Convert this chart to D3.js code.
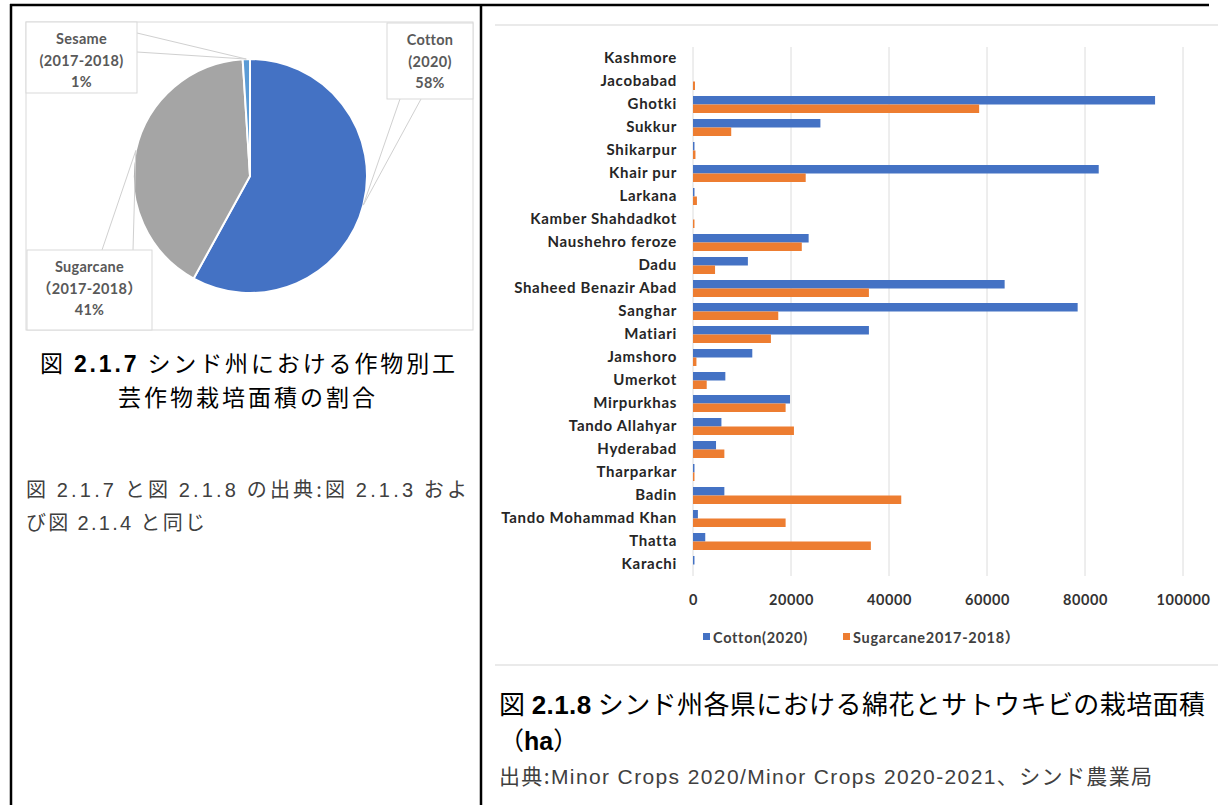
<!DOCTYPE html>
<html><head><meta charset="utf-8">
<script src="https://cdn.jsdelivr.net/npm/d3@7"></script>
<style>body{margin:0;background:#fff}svg{display:block}</style>
</head><body><svg id="c" width="1218" height="805"></svg>
<script>
// Share of industrial crop area in Sindh (pie)
const shareNames = ["Cotton", "Sugarcane", "Sesame"];
const shareYears = ["(2020)", "（2017-2018）", "(2017-2018)"];
const sharePct = [58, 41, 1];
const shareColors = ["#4472C4", "#A5A5A5", "#5B9BD5"];

// Cotton and sugarcane area by district (ha)
const districts = ["Kashmore", "Jacobabad", "Ghotki", "Sukkur", "Shikarpur", "Khair pur", "Larkana",
  "Kamber Shahdadkot", "Naushehro feroze", "Dadu", "Shaheed Benazir Abad", "Sanghar", "Matiari",
  "Jamshoro", "Umerkot", "Mirpurkhas", "Tando Allahyar", "Hyderabad", "Tharparkar", "Badin",
  "Tando Mohammad Khan", "Thatta", "Karachi"];
const cotton2020 = [0, 0, 94300, 26000, 300, 82800, 300, 0, 23600, 11200, 63600, 78500, 35900,
  12100, 6600, 19800, 5800, 4700, 300, 6400, 1000, 2500, 300];
const sugarcane1718 = [0, 400, 58400, 7800, 500, 23000, 800, 300, 22200, 4500, 35900, 17400, 15900,
  700, 2800, 18900, 20600, 6400, 300, 42500, 18900, 36300, 0];
const xTicks = [0, 20000, 40000, 60000, 80000, 100000];
const seriesNames = ["Cotton(2020)", "Sugarcane2017-2018）"];
const seriesColors = ["#4472C4", "#ED7D31"];

const svg = d3.select("#c");
svg.append("rect").attr("width", 1218).attr("height", 805).attr("fill", "#fff");

const LAT = "Lato, 'Open Sans', 'Noto Sans CJK JP', sans-serif";

// ---------- table frame ----------
const frame = svg.append("g").attr("stroke", "#000").attr("stroke-width", 2.5);
frame.append("line").attr("x1", 10).attr("x2", 1209).attr("y1", 5).attr("y2", 5);
frame.append("line").attr("x1", 11).attr("x2", 11).attr("y1", 4).attr("y2", 805);
frame.append("line").attr("x1", 481).attr("x2", 481).attr("y1", 4).attr("y2", 805);

// ---------- pie panel ----------
const pieG = svg.append("g");
pieG.append("rect").attr("x", 26).attr("y", 22).attr("width", 447).attr("height", 308)
  .attr("fill", "#fff").attr("stroke", "#D9D9D9");

const cx = 250, cy = 176, R = 117;
const pieData = d3.pie().sort(null).value(d => d)(sharePct);
const arc = d3.arc().innerRadius(0).outerRadius(R);
pieG.append("g").attr("transform", `translate(${cx},${cy})`)
  .selectAll("path").data(pieData).join("path")
  .attr("d", arc).attr("fill", (d, i) => shareColors[i])
  .attr("stroke", "#fff").attr("stroke-width", 2).attr("stroke-linejoin", "round");

function edgePoint(d) {
  const a = (d.startAngle + d.endAngle) / 2;
  return [cx + R * Math.sin(a), cy - R * Math.cos(a)];
}

// callout boxes with two-line leaders to the slice edge
const callouts = [
  { box: [387, 23, 86, 76], a: [400, 99], b: [421, 99] },
  { box: [27, 250, 125, 80], a: [102, 250], b: [133, 250] },
  { box: [26, 22, 111, 71], a: [137, 33], b: [137, 52] }
];
callouts.forEach((c, i) => {
  const p = edgePoint(pieData[i]);
  pieG.append("polyline")
    .attr("points", [c.a, p, c.b].map(q => q.join(",")).join(" "))
    .attr("fill", "none").attr("stroke", "#D0D0D0").attr("stroke-width", 1);
  pieG.append("rect").attr("x", c.box[0]).attr("y", c.box[1])
    .attr("width", c.box[2]).attr("height", c.box[3])
    .attr("fill", "#fff").attr("stroke", "#D9D9D9");
  const tx = c.box[0] + c.box[2] / 2;
  const lines = [shareNames[i], shareYears[i], sharePct[i] + "%"];
  const t = pieG.append("text").attr("text-anchor", "middle")
    .attr("font-family", LAT).attr("font-weight", 700).attr("font-size", 14.5)
    .attr("letter-spacing", 0.3).attr("fill", "#595959");
  lines.forEach((s, k) => t.append("tspan").attr("x", tx)
    .attr("y", c.box[1] + 22 + k * 21.5).text(s));
});

// ---------- text helper: Japanese runs + Latin runs ----------
function caption(x, y, parts, opts) {
  const t = svg.append("text").attr("x", x).attr("y", y)
    .attr("font-size", opts.size).attr("fill", opts.fill || "#000")
    .attr("text-anchor", opts.anchor || "start");
  if (opts.len) t.attr("textLength", opts.len).attr("lengthAdjust", "spacing");
  parts.forEach(p => t.append("tspan")
    .attr("font-family", p.latin
      ? (p.narrow ? "'Liberation Sans Narrow', 'Liberation Sans', Arial, sans-serif" : "'Liberation Sans', Arial, sans-serif")
      : "'Noto Sans CJK JP', sans-serif")
    .attr("font-weight", p.bold ? 700 : 400)
    .text(p.s));
  return t;
}

// ---------- left captions ----------
caption(40, 372, [{ s: "図 " }, { s: "2.1.7", latin: 1, bold: 1 }, { s: " シンド州における作物別工" }],
  { size: 23, len: 415 });
caption(118, 406, [{ s: "芸作物栽培面積の割合" }], { size: 23, len: 257 });
caption(26, 497, [{ s: "図 " }, { s: "2.1.7", latin: 1 }, { s: " と図 " }, { s: "2.1.8", latin: 1 },
  { s: " の出典:図 " }, { s: "2.1.3", latin: 1 }, { s: " およ" }],
  { size: 20, fill: "#404040", len: 441 });
caption(26, 530, [{ s: "び図 " }, { s: "2.1.4", latin: 1 }, { s: " と同じ" }],
  { size: 20, fill: "#404040", len: 179 });

// ---------- bar chart panel ----------
const chart = svg.append("g");
chart.append("line").attr("x1", 495).attr("x2", 1218).attr("y1", 25).attr("y2", 25)
  .attr("stroke", "#E3E3E3").attr("stroke-width", 1.5);
chart.append("line").attr("x1", 495).attr("x2", 1218).attr("y1", 665).attr("y2", 665)
  .attr("stroke", "#E3E3E3").attr("stroke-width", 1.5);

const x = d3.scaleLinear().domain([0, 100000]).range([693, 1183]);
const y = d3.scaleBand().domain(districts).range([47, 576]);
const yTop = 47, yBot = 576;

// gridlines
chart.append("g").selectAll("line").data(xTicks).join("line")
  .attr("x1", d => x(d)).attr("x2", d => x(d)).attr("y1", yTop).attr("y2", yBot)
  .attr("stroke", "#DCDCDC").attr("stroke-width", 1);

// bars
const barH = 8.5;
const rows = districts.map((d, i) => ({ d, c: cotton2020[i], s: sugarcane1718[i] }));
const mid = d => y(d) + y.bandwidth() / 2;
chart.append("g").selectAll("rect").data(rows).join("rect")
  .attr("x", x(0)).attr("y", r => mid(r.d) - barH)
  .attr("width", r => x(r.c) - x(0)).attr("height", barH).attr("fill", seriesColors[0]);
chart.append("g").selectAll("rect").data(rows).join("rect")
  .attr("x", x(0)).attr("y", r => mid(r.d))
  .attr("width", r => x(r.s) - x(0)).attr("height", barH).attr("fill", seriesColors[1]);

// category axis
const yAxis = chart.append("g").attr("transform", `translate(${x(0)},0)`)
  .call(d3.axisLeft(y).tickSize(0).tickPadding(16));
yAxis.select(".domain").remove();
yAxis.selectAll("text").attr("font-family", LAT).attr("font-weight", 700)
  .attr("font-size", 15).attr("letter-spacing", 0.7).attr("fill", "#262626");

// value axis
const xAxis = chart.append("g").attr("transform", `translate(0,${yBot})`)
  .call(d3.axisBottom(x).tickValues(xTicks).tickFormat(d3.format("d")).tickSize(0).tickPadding(19));
xAxis.select(".domain").remove();
xAxis.selectAll("text").attr("font-family", LAT).attr("font-weight", 700)
  .attr("font-size", 14.5).attr("letter-spacing", 0.6).attr("fill", "#333");

// legend
const legX = [703, 843];
const leg = chart.append("g").selectAll("g").data(seriesNames).join("g")
  .attr("transform", (d, i) => `translate(${legX[i]},637)`);
leg.append("rect").attr("x", 0).attr("y", -4).attr("width", 7).attr("height", 7)
  .attr("fill", (d, i) => seriesColors[i]);
leg.append("text").attr("x", 10).attr("y", 5.5).attr("font-family", LAT).attr("font-weight", 700)
  .attr("font-size", 14.5).attr("letter-spacing", 0.7).attr("fill", "#404040").text(d => d);

// right captions
caption(499, 714, [{ s: "図 " }, { s: "2.1.8", latin: 1, bold: 1 }, { s: " シンド州各県における綿花とサトウキビの栽培面積" }],
  { size: 26, len: 706 });
caption(499, 750, [{ s: "（" }, { s: "ha", latin: 1, bold: 1 }, { s: "）" }], { size: 25 });
caption(499, 784, [{ s: "出典:" }, { s: "Minor Crops 2020/Minor Crops 2020-2021", latin: 1, narrow: 1 }, { s: "、シンド農業局" }],
  { size: 21, fill: "#404040", len: 653 });
</script></body></html>
